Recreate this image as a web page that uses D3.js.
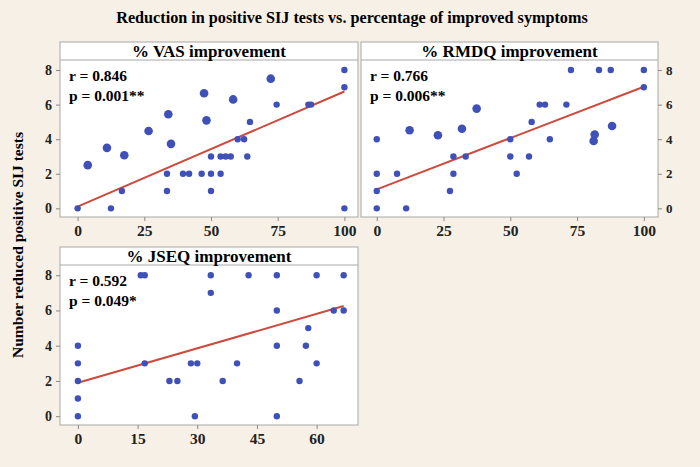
<!DOCTYPE html>
<html lang="en">
<head>
<meta charset="utf-8" />
<title>SIJ tests vs improvement</title>
<script src="https://d3js.org/d3.v7.min.js"></script>
<style>
  body { margin: 0; background: #f6f0e7; }
  text { font-family: "Liberation Serif", serif; font-weight: bold; }
</style>
</head>
<body>
<svg width="700" height="467"></svg>
<script>
// Data: [x, y, large?]
const vasPoints = [[0,0,0],[3.8,2.5,1],[12.5,0,0],[11,3.5,1],[17.5,3.07,1],[16.6,1,0],[26.6,4.47,1],
  [34,5.44,1],[35,3.73,1],[33.5,2,0],[33.5,1,0],[39.5,2,0],[41.8,2,0],[46.5,2,0],[47.4,6.66,1],
  [48.3,5.09,1],[50,3,0],[50,2,0],[50,1,0],[53.6,3,0],[53.6,2,0],[55.5,3,0],[57.4,3,0],[58.3,6.3,1],
  [60,4,0],[62.4,4,0],[63.6,3,0],[64.6,5,0],[72.4,7.5,1],[74.6,6,0],[86.5,6,0],[87.5,6,0],
  [100,8,0],[100,7,0],[100,0,0]];
const rmdqPoints = [[0,0,0],[11,0,0],[0,1,0],[27.4,1,0],[0,2,0],[7.6,2,0],[28.7,2,0],[52.4,2,0],
  [28.7,3,0],[33.3,3,0],[50,3,0],[57,3,0],[0,4,0],[50,4,0],[64.8,4,0],[81.2,3.9,1],[81.6,4.27,1],
  [88.1,4.76,1],[12.3,4.52,1],[22.9,4.23,1],[31.9,4.6,1],[37.4,5.77,1],[58,5,0],[61,6,0],[63,6,0],
  [71,6,0],[72.7,8,0],[83.2,8,0],[87.6,8,0],[100,8,0],[100,7,0]];
const jseqPoints = [[0,0,0],[0,1,0],[0,2,0],[0,3,0],[0,4,0],[15.8,8,0],[16.8,8,0],[16.8,3,0],
  [23,2,0],[25,2,0],[28.4,3,0],[30,3,0],[29.4,0,0],[33.4,8,0],[33.4,7,0],[36.4,2,0],[40,3,0],
  [42.9,8,0],[50,8,0],[50,6,0],[50,4,0],[50,0,0],[55.7,2,0],[57.3,4,0],[57.9,5,0],[60,8,0],
  [60,3,0],[64.3,6,0],[66.8,6,0],[66.8,8,0]];
const fitLines = { vas: [[0,0.1],[100,6.76]], rmdq: [[0,1.1],[100,7.03]], jseq: [[0,1.9],[66.8,6.25]] };
const yTicks = [0, 2, 4, 6, 8];
const vasTicks = [0, 25, 50, 75, 100];
const jseqTicks = [0, 15, 30, 45, 60];

const svg = d3.select('svg');

svg.append('text').attr('x', 352).attr('y', 23).attr('text-anchor', 'middle')
  .attr('font-size', 16.2).text('Reduction in positive SIJ tests vs. percentage of improved symptoms');
svg.append('text').attr('transform', 'translate(23,245) rotate(-90)').attr('text-anchor', 'middle')
  .attr('font-size', 15.5).text('Number reduced positive SIJ tests');

function panel(o) {
  const g = svg.append('g');
  const top = o.top + 18;
  const x = d3.scaleLinear().domain(o.xDomain).range([o.left, o.right]);
  const y = d3.scaleLinear().domain([-0.5, 8.58]).range([o.bottom, top]);

  g.append('rect').attr('x', o.left).attr('y', o.top).attr('width', o.right - o.left)
    .attr('height', o.bottom - o.top).attr('fill', '#fff').attr('stroke', '#a8a8a8');
  g.append('line').attr('x1', o.left).attr('x2', o.right).attr('y1', top).attr('y2', top)
    .attr('stroke', '#a8a8a8');
  g.append('text').attr('x', (o.left + o.right) / 2).attr('y', o.top + 15)
    .attr('text-anchor', 'middle').attr('font-size', 17).text(o.title);

  const xa = g.append('g').attr('transform', `translate(0,${o.bottom})`)
    .call(d3.axisBottom(x).tickValues(o.xTicks).tickSize(4).tickPadding(4));
  const ya = o.yRight
    ? g.append('g').attr('transform', `translate(${o.right},0)`).call(d3.axisRight(y).tickValues(yTicks).tickSize(4).tickPadding(4))
    : g.append('g').attr('transform', `translate(${o.left},0)`).call(d3.axisLeft(y).tickValues(yTicks).tickSize(4).tickPadding(4));
  [xa, ya].forEach(a => {
    a.select('.domain').remove();
    a.selectAll('line').attr('stroke', '#888');
    a.selectAll('text').attr('font-size', 14).attr('fill', '#222')
      .style('font-family', '"Liberation Serif", serif').style('font-weight', 'bold');
  });
  if (o.yRight) ya.selectAll('text').attr('font-size', 13);
  xa.selectAll('text').attr('font-size', 15.5);

  g.append('line').attr('x1', x(o.fit[0][0])).attr('y1', y(o.fit[0][1]))
    .attr('x2', x(o.fit[1][0])).attr('y2', y(o.fit[1][1]))
    .attr('stroke', '#cc4a3e').attr('stroke-width', 2);

  g.selectAll('circle.pt').data(o.points).join('circle')
    .attr('cx', d => x(d[0])).attr('cy', d => y(d[1]))
    .attr('r', d => d[2] ? 4.3 : 3.2).attr('fill', '#3f51b8');

  g.append('text').attr('x', o.left + 9).attr('y', top + 21).attr('font-size', 15.5).text(o.r);
  g.append('text').attr('x', o.left + 9).attr('y', top + 41).attr('font-size', 15.5).text(o.p);
}

panel({ title: '% VAS improvement', left: 60, right: 358, top: 42, bottom: 217,
  xDomain: [-6.6, 105.1], xTicks: vasTicks, points: vasPoints, fit: fitLines.vas,
  r: 'r = 0.846', p: 'p = 0.001**' });
panel({ title: '% RMDQ improvement', left: 361, right: 658, top: 42, bottom: 217,
  xDomain: [-5.9, 105.3], xTicks: vasTicks, points: rmdqPoints, fit: fitLines.rmdq,
  r: 'r = 0.766', p: 'p = 0.006**', yRight: true });
panel({ title: '% JSEQ improvement', left: 60, right: 358, top: 247, bottom: 425,
  xDomain: [-4.5, 70.4], xTicks: jseqTicks, points: jseqPoints, fit: fitLines.jseq,
  r: 'r = 0.592', p: 'p = 0.049*' });
</script>
</body>
</html>
